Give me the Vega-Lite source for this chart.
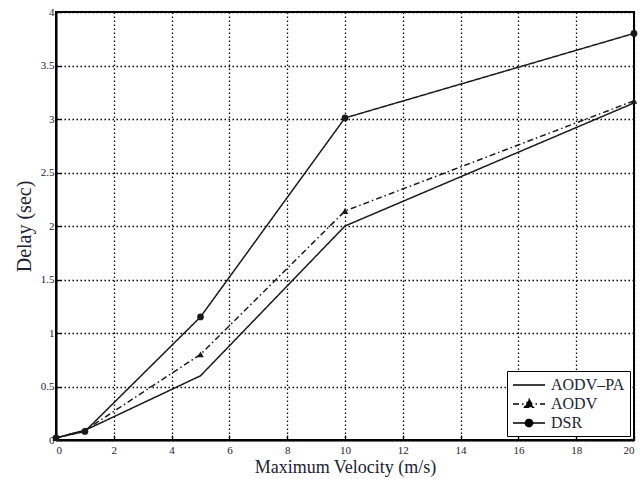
{
  "$schema": "https://vega.github.io/schema/vega-lite/v6.json",
  "width": 578,
  "height": 428,
  "autosize": {"type": "none"},
  "padding": {"left": 56, "top": 12, "right": 7, "bottom": 39},
  "background": "white",
  "config": {
    "font": "Liberation Serif",
    "view": {"stroke": "black", "strokeWidth": 2},
    "axis": {
      "domainColor": "black",
      "domainWidth": 2,
      "grid": true,
      "gridColor": "black",
      "gridDash": [1.5, 2.5],
      "gridWidth": 1.3,
      "gridOpacity": 1,
      "tickColor": "black",
      "tickSize": -5,
      "tickWidth": 1.3,
      "labelFont": "Liberation Serif",
      "labelFontSize": 11,
      "labelColor": "#223",
      "titleFont": "Liberation Serif",
      "titleFontWeight": "normal",
      "titleColor": "#223"
    }
  },
  "data": {
    "values": [
      {"v": 0, "d": 0.02, "s": "AODV–PA"},
      {"v": 1, "d": 0.09, "s": "AODV–PA"},
      {"v": 5, "d": 0.6, "s": "AODV–PA"},
      {"v": 10, "d": 2.0, "s": "AODV–PA"},
      {"v": 20, "d": 3.15, "s": "AODV–PA"},
      {"v": 0, "d": 0.02, "s": "AODV"},
      {"v": 1, "d": 0.09, "s": "AODV"},
      {"v": 5, "d": 0.8, "s": "AODV"},
      {"v": 10, "d": 2.14, "s": "AODV"},
      {"v": 20, "d": 3.17, "s": "AODV"},
      {"v": 0, "d": 0.02, "s": "DSR"},
      {"v": 1, "d": 0.08, "s": "DSR"},
      {"v": 5, "d": 1.15, "s": "DSR"},
      {"v": 10, "d": 3.01, "s": "DSR"},
      {"v": 20, "d": 3.8, "s": "DSR"}
    ]
  },
  "layer": [
    {
      "mark": {"type": "line", "color": "#1a1a1a", "strokeWidth": 1.5},
      "encoding": {
        "x": {
          "field": "v", "type": "quantitative",
          "scale": {"domain": [0, 20], "nice": false},
          "axis": {"values": [0, 2, 4, 6, 8, 10, 12, 14, 16, 18, 20], "title": "Maximum Velocity (m/s)", "titleFontSize": 18, "labelPadding": 9, "titlePadding": 3}
        },
        "y": {
          "field": "d", "type": "quantitative",
          "scale": {"domain": [0, 4], "nice": false},
          "axis": {"values": [0, 0.5, 1, 1.5, 2, 2.5, 3, 3.5, 4], "format": "~g", "title": "Delay (sec)", "titleFontSize": 20, "labelPadding": 7, "titlePadding": 6}
        },
        "strokeDash": {
          "field": "s", "type": "nominal",
          "scale": {"domain": ["AODV–PA", "AODV", "DSR"], "range": [[1, 0], [6, 3, 1.5, 3], [1, 0]]},
          "legend": {
            "title": null,
            "orient": "bottom-right",
            "offset": 4,
            "strokeColor": "black",
            "fillColor": "white",
            "padding": 5,
            "rowPadding": 2,
            "labelFont": "Liberation Serif",
            "labelFontSize": 16,
            "labelColor": "#223",
            "symbolSize": 256,
            "symbolStrokeWidth": 1.5,
            "symbolStrokeColor": "black",
            "symbolOffset": 8,
            "labelOffset": 13,
            "encode": {
              "symbols": {
                "update": {
                  "shape": {"signal": "datum.value === 'AODV' ? 'M-2,0H2M0,-0.6L0.55,0.4L-0.55,0.4Z' : datum.value === 'DSR' ? 'M-2,0H2M0.45,0A0.45,0.45,0,1,1,-0.45,0A0.45,0.45,0,1,1,0.45,0Z' : 'M-2,0H2'"},
                  "fill": {"value": "black"},
                  "stroke": {"value": "black"}
                }
              }
            }
          }
        }
      }
    },
    {
      "transform": [{"filter": "datum.s !== 'AODV–PA'"}],
      "mark": {"type": "point", "filled": true, "color": "#1a1a1a", "opacity": 1},
      "encoding": {
        "x": {"field": "v", "type": "quantitative"},
        "y": {"field": "d", "type": "quantitative"},
        "shape": {
          "field": "s", "type": "nominal",
          "scale": {"domain": ["AODV", "DSR"], "range": ["triangle-up", "circle"]},
          "legend": null
        },
        "size": {"value": 45}
      }
    }
  ]
}
